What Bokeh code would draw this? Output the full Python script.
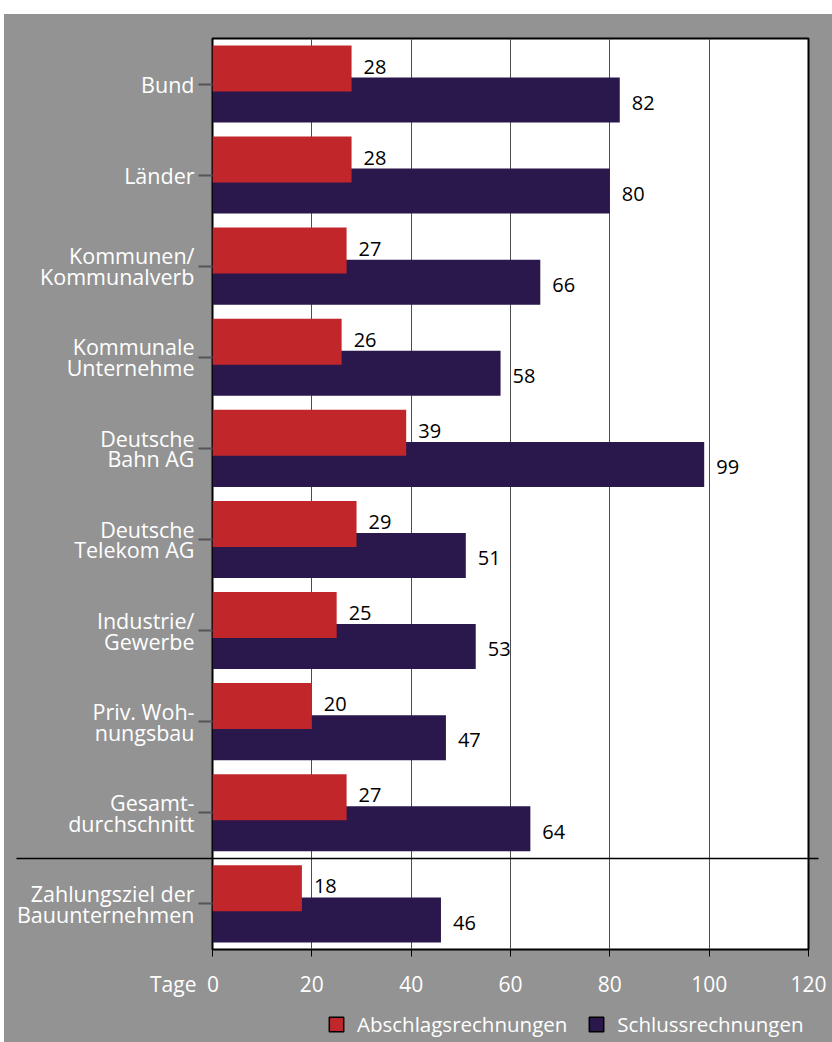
from bokeh.plotting import figure
from bokeh.models import (Range1d, FixedTicker, Legend, LegendItem, LinearAxis,
                          ColumnDataSource, Span, Spacer)
from bokeh.layouts import column, row
from bokeh.embed import file_html
from bokeh.resources import INLINE
from bokeh.core.properties import value

categories = ["Bund", "Länder", "Kommunen/\nKommunalverb", "Kommunale\nUnternehme",
              "Deutsche\nBahn AG", "Deutsche\nTelekom AG", "Industrie/\nGewerbe",
              "Priv. Woh-\nnungsbau", "Gesamt-\ndurchschnitt",
              "Zahlungsziel der\nBauunternehmen"]
abschlag = [28, 28, 27, 26, 39, 29, 25, 20, 27, 18]
schluss = [82, 80, 66, 58, 99, 51, 53, 47, 64, 46]
x_ticks = [0, 20, 40, 60, 80, 100, 120]
x_unit = "Tage"
series_names = ["Abschlagsrechnungen", "Schlussrechnungen"]

RED = "#c1272a"
NAVY = "#2a174c"
GRAY = "#939393"
FONT = "Open Sans"

n = len(categories)
centers = [i + 0.5 for i in range(n)]
red_y = [c - 0.172 for c in centers]
navy_y = [c + 0.175 for c in centers]
sep = n - 1  # boundary between the averages and the payment target

src = ColumnDataSource(dict(
    abschlag=abschlag, schluss=schluss, red_y=red_y, navy_y=navy_y,
    red_ly=[y - 0.02 for y in red_y], navy_ly=[y + 0.03 for y in navy_y],
    abschlag_t=[str(v) for v in abschlag], schluss_t=[str(v) for v in schluss],
))

p = figure(frame_width=596, frame_height=911, output_backend="svg",
           toolbar_location=None, x_range=Range1d(0, 120), y_range=Range1d(n, 0),
           min_border_left=208, min_border_right=24, min_border_top=24,
           min_border_bottom=56)
p.background_fill_color = "white"
p.border_fill_color = GRAY
p.outline_line_color = "black"
p.outline_line_width = 2

p.hbar(y="navy_y", right="schluss", left=0, height=0.494, source=src,
       fill_color=NAVY, line_color=None)
p.hbar(y="red_y", right="abschlag", left=0, height=0.505, source=src,
       fill_color=RED, line_color=None)

p.text(x="abschlag", y="red_ly", text="abschlag_t", source=src, x_offset=12,
       text_baseline="middle", text_align="left", text_font=value(FONT),
       text_font_size="20px", text_color="black")
p.text(x="schluss", y="navy_ly", text="schluss_t", source=src, x_offset=12,
       text_baseline="middle", text_align="left", text_font=value(FONT),
       text_font_size="20px", text_color="black")

# grid
p.ygrid.grid_line_color = None
p.xgrid.grid_line_color = "#4d4d4d"
p.xgrid.grid_line_width = 1
p.xgrid.ticker = FixedTicker(ticks=x_ticks)

# separator inside the frame
p.add_layout(Span(location=sep, dimension="width", line_color="black", line_width=1.5))

# x axis; the unit "Tage" sits left of the 0 label (padded so 0 stays centred)
xa = p.xaxis[0]
xa.ticker = FixedTicker(ticks=x_ticks)
xa.major_label_overrides = {0: x_unit + "\u2002" + "0" + "\u2002" * 5 + "\u2009"}
xa.axis_line_color = "black"
xa.axis_line_width = 1
xa.major_tick_line_color = "black"
xa.major_tick_out = 7
xa.major_tick_in = 0
xa.minor_tick_line_color = None
xa.major_label_text_color = "white"
xa.major_label_text_font = FONT
xa.major_label_text_font_size = "21px"
xa.major_label_standoff = 13

# y axis (minor tick at the separator extends the line to the left)
ya = p.yaxis[0]
ya.ticker = FixedTicker(ticks=centers, minor_ticks=[sep])
ya.major_label_overrides = {c: lab for c, lab in zip(centers, categories)}
ya.axis_line_color = None
ya.major_tick_line_color = "#555555"
ya.major_tick_line_width = 2
ya.major_tick_out = 14
ya.major_tick_in = 0
ya.minor_tick_line_color = "black"
ya.minor_tick_line_width = 1.5
ya.minor_tick_out = 196
ya.minor_tick_in = 0
ya.major_label_text_color = "white"
ya.major_label_text_font = FONT
ya.major_label_text_font_size = "21.5px"
ya.major_label_standoff = -178
ya.major_label_text_line_height = 0.72

# right axis: only extends the separator a little to the right
ra = LinearAxis(ticker=FixedTicker(ticks=[], minor_ticks=[sep]))
ra.axis_line_color = None
ra.major_tick_out = 0
ra.major_tick_in = 0
ra.minor_tick_line_color = "black"
ra.minor_tick_line_width = 1.5
ra.minor_tick_out = 10
ra.minor_tick_in = 0
ra.major_label_text_font_size = "0px"
p.add_layout(ra, "right")

# legend strip: a small figure of its own, legend inside its frame
lg = figure(width=828, height=37, output_backend="svg", toolbar_location=None,
            x_axis_location=None, y_axis_location=None,
            x_range=Range1d(0, 1), y_range=Range1d(0, 1), min_border=0)
lg.background_fill_color = GRAY
lg.border_fill_color = GRAY
lg.outline_line_color = None
lg.grid.visible = False
# swatch sources for the legend (kept outside the visible range)
d1 = lg.quad(left=[-3], right=[-2], top=[-2], bottom=[-3],
             fill_color=RED, line_color="black", line_width=1.5)
d2 = lg.quad(left=[-3], right=[-2], top=[-2], bottom=[-3],
             fill_color=NAVY, line_color="black", line_width=1.5)
legend = Legend(items=[LegendItem(label=series_names[0], renderers=[d1]),
                       LegendItem(label=series_names[1], renderers=[d2])],
                orientation="horizontal", location=(115, 4),
                glyph_width=18, glyph_height=18, label_standoff=12, spacing=20,
                padding=0, margin=0, label_height=20,
                label_text_color="white", label_text_font=FONT,
                label_text_font_size="20.5px", background_fill_alpha=0,
                border_line_alpha=0)
lg.add_layout(legend, "center")

layout = column(Spacer(width=832, height=14),
                row(Spacer(width=4, height=1028),
                    column(p, lg, spacing=0, styles={"background-color": GRAY}),
                    spacing=0),
                spacing=0)
open("out.html", "w").write(file_html(layout, INLINE))
